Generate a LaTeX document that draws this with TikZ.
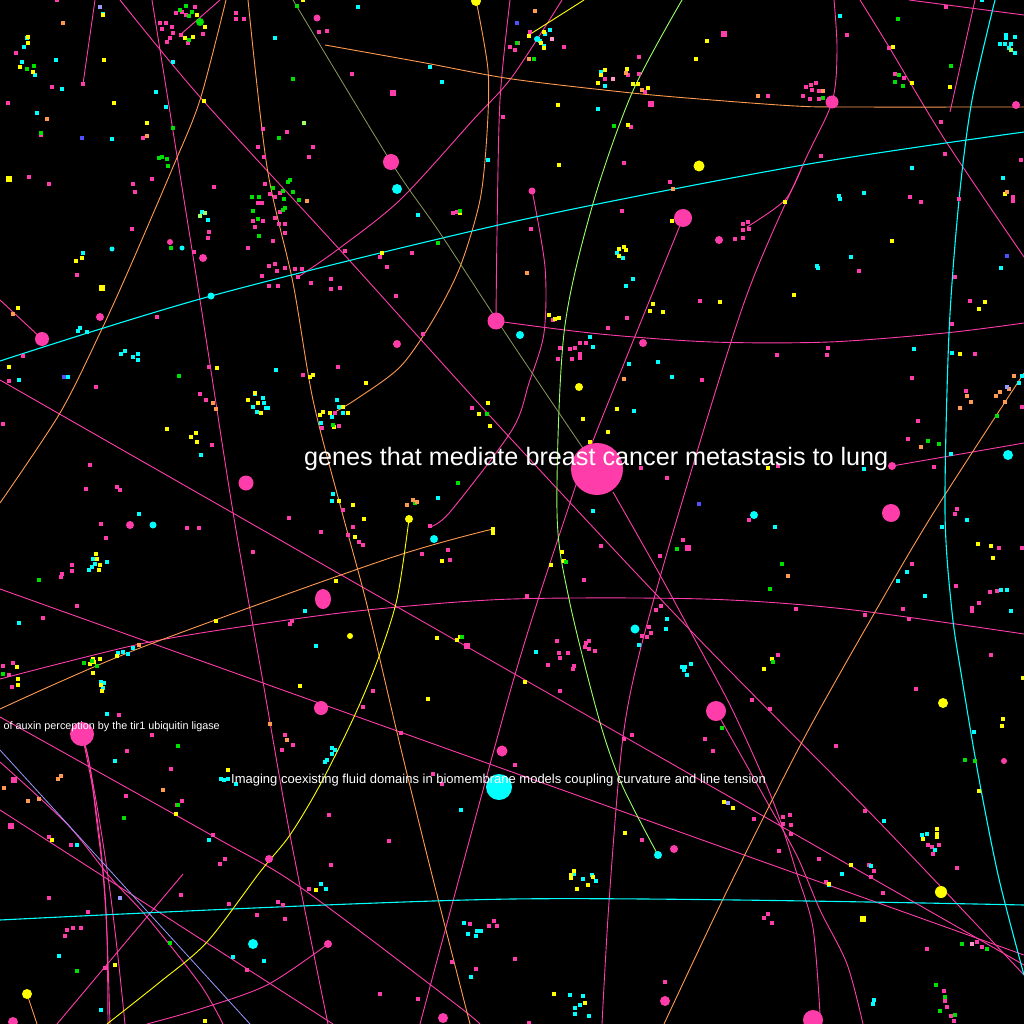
\documentclass[tikz,border=0pt]{standalone}
\usepackage{fontspec}
\setmainfont{Liberation Sans}
\definecolor{pk}{HTML}{FF3DAA}
\definecolor{cy}{HTML}{00FFFF}
\definecolor{ye}{HTML}{FFFF00}
\definecolor{gr}{HTML}{00E000}
\definecolor{orc}{HTML}{FF9A50}
\definecolor{lgc}{HTML}{99FF66}
\definecolor{olc}{HTML}{8C9A5A}
\definecolor{lvc}{HTML}{9999FF}
\definecolor{blc}{HTML}{5050FF}
\definecolor{lpk}{HTML}{FF99CC}
\tikzset{
  pline/.style={draw=pk, line width=0.9pt},
  oline/.style={draw=orc, line width=0.9pt},
  cline/.style={draw=cy, line width=1.1pt},
  gline/.style={draw=lgc, line width=0.9pt},
  yline/.style={draw=ye, line width=0.9pt},
  olline/.style={draw=olc, line width=0.8pt},
  lvline/.style={draw=lvc, line width=0.8pt},
  bigtext/.style={text=white, inner sep=0pt, font=\fontsize{25.2}{28}\selectfont},
  smalltext/.style={text=white, inner sep=0pt, font=\fontsize{13}{15}\selectfont},
  tinytext/.style={text=white, inner sep=0pt, font=\fontsize{10.8}{13}\selectfont},
}
\newcommand{\dotsq}{+(-1.8,-1.8) rectangle +(1.8,1.8)}
\begin{document}
\begin{tikzpicture}[x=1pt,y=-1pt]
\fill[black] (0,0) rectangle (1024,1024);
\clip (0,0) rectangle (1024,1024);
\useasboundingbox (0,0) rectangle (1024,1024);

% ---------- lines ----------
% pink
\draw[pline] (95,0) -- (83,84);
\draw[pline] plot[smooth] coordinates {(152,0) (200,300) (233,512) (263,682) (290,835) (328,1024)};
\draw[pline] plot[smooth] coordinates {(120,0) (200,97) (340,250) (512,440) (692,632) (879,822) (1024,975)};
\draw[pline] plot[smooth] coordinates {(562,0) (512,77) (473,120) (400,200) (337,250) (298,277)};
\draw[pline] plot[smooth] coordinates {(510,0) (500,100) (497,233) (496,321)};
\draw[pline] (0,300) -- (42,339);
\draw[pline] (0,380) -- (1024,965);
\draw[pline] (0,589) -- (1024,955);
\draw[pline] plot[smooth] coordinates {(0,717) (213,836) (300,887) (453,1002) (480,1024)};
\draw[pline] plot[smooth] coordinates {(0,679) (140,644) (253,625) (367,610) (512,599) (704,599) (845,609) (1024,634)};
\draw[pline] plot[smooth] coordinates {(683,218) (592,443) (567,512) (512,685) (420,1024)};
\draw[pline] plot[smooth] coordinates {(834,0) (837,50) (832,102) (802,167) (745,300) (679,512) (639,655) (622,745) (609,902) (602,1024)};
\draw[pline] plot[smooth] coordinates {(802,167) (785,200) (747,227)};
\draw[pline] plot[smooth] coordinates {(532,190) (545,267) (544,333) (529,383) (512,430) (450,512) (430,527)};
\draw[pline] (892,466) -- (1024,443);
\draw[pline] plot[smooth] coordinates {(496,321) (600,334) (712,342) (829,342) (945,333) (1024,323)};
\draw[pline] (975,0) -- (950,112);
\draw[pline] (909,0) -- (1024,15);
\draw[pline] plot[smooth] coordinates {(860,0) (889,47) (945,140) (1024,257)};
\draw[pline] plot[smooth] coordinates {(613,492) (660,575) (693,636) (730,705) (763,777) (780,820) (797,874) (813,928) (820,1014)};
\draw[pline] plot[smooth] coordinates {(716,711) (747,766) (767,802) (797,856) (820,910) (847,964) (863,1024)};
\draw[pline] (183,874) -- (57,1024);
\draw[pline] plot[smooth] coordinates {(328,944) (267,985) (200,1009) (147,1024)};
\draw[pline] plot[smooth] coordinates {(82,734) (90,767) (97,824) (103,874) (107,937) (108,1024)};
\draw[pline] plot[smooth] coordinates {(82,734) (93,790) (101,850) (106,910) (110,1024)};
\draw[pline] plot[smooth] coordinates {(82,734) (88,757) (100,824) (110,891) (118,957) (125,1024)};
\draw[pline] plot[smooth] coordinates {(0,762) (67,824) (110,877) (147,917) (200,984) (223,1024)};
\draw[pline] (0,810) -- (333,1024);
\draw[pline] (220,0) -- (180,35);
% orange
\draw[oline] plot[smooth] coordinates {(226,0) (200,100) (173,167) (130,267) (100,333) (60,413) (0,503)};
\draw[oline] plot[smooth] coordinates {(248,0) (267,167) (293,283) (313,400) (342,512) (367,605) (400,745) (433,879) (470,1024)};
\draw[oline] plot[smooth] coordinates {(325,45) (420,62) (512,79) (632,93) (712,100) (795,106) (845,107) (1024,107)};
\draw[oline] plot[smooth] coordinates {(476,0) (488,70) (487,133) (480,200) (460,267) (433,320) (400,367) (355,400) (333,413)};
\draw[oline] plot[smooth] coordinates {(0,709) (140,648) (387,559) (493,529)};
\draw[oline] plot[smooth] coordinates {(1024,373) (934,512) (875,612) (802,742) (725,895) (664,1024)};
\draw[oline] (27,994) -- (37,1024);
% cyan
\draw[cline] plot[smooth] coordinates {(0,361) (211,296) (512,222) (803,165) (1024,132)};
\draw[cline] plot[smooth] coordinates {(995,0) (972,100) (959,200) (949,333) (945,512) (952,612) (962,679) (979,779) (999,879) (1024,975)};
\draw[cline] plot[smooth] coordinates {(0,920) (512,899) (1024,905)};
% light green
\draw[gline] plot[smooth] coordinates {(682,0) (632,93) (592,207) (564,333) (557,512) (569,599) (599,719) (622,785) (658,855)};
% olive
\draw[olline] plot[smooth] coordinates {(293,0) (391,162) (440,233) (512,343) (597,469)};
% yellow
\draw[yline] plot[smooth] coordinates {(409,519) (397,599) (377,662) (353,719) (320,785) (290,835) (260,872) (207,942) (160,982) (107,1024)};
\draw[yline] (532,33) -- (584,0);
% lavender
\draw[lvline] (0,750) -- (250,1024);

% ---------- small dots ----------
\foreach \x/\y in {57/0, 16/53, 52/87, 83/84, 8/103, 41/135, 29/177, 49/184, 143/138, 133/184, 135/192, 152/179, 214/187, 160/23, 166/23, 172/27, 162/29, 176/13, 182/12, 186/15, 195/7, 203/34, 188/43, 181/35, 173/33, 170/38, 167/42, 236/13, 236/19, 244/19, 319/32, 327/31, 352/74, 503/117, 510/47, 287/132, 263/129, 258/147, 264/157, 313/147, 309/157, 265/184, 270/194, 275/197, 280/193, 258/203, 262/203, 280/212, 263/221, 253/221, 275/218, 255/227, 279/224, 285/224, 285/233, 273/241, 248/248, 209/232, 208/238, 132/229, 194/252, 77/275, 23/356, 9/381, 157/317, 269/266, 275/264, 277/271, 285/268, 262/276, 295/269, 302/269, 298/277, 269/286, 278/286, 311/283, 345/251, 331/279, 331/289, 340/288, 380/257, 387/267, 412/253, 396/296, 453/213, 457/212, 423/334, 338/367, 303/375, 209/367, 96/387, 3/424, 200/394, 206/400, 212/445, 90/465, 86/489, 117/487, 120/490, 335/413, 322/428, 339/426, 472/408, 343/510}
  \fill[pk] (\x,\y) \dotsq;
\foreach \x/\y in {530/32, 518/43, 515/50, 564/47, 639/57, 605/79, 628/75, 639/74, 645/92, 631/127, 768/96, 806/87, 811/85, 816/83, 812/90, 819/91, 803/96, 810/99, 819/99, 847/35, 889/48, 895/74, 904/78, 941/122, 946/7, 624/163, 670/182, 821/156, 945/154, 1021/160, 910/197, 921/202, 959/199, 1013/197, 1013/201, 531/229, 622/211, 735/239, 743/224, 748/222, 743/230, 749/229, 743/238, 859/271, 955/277, 700/301, 970/301, 553/320, 560/348, 570/349, 575/348, 580/343, 586/343, 580/354, 580/358, 558/359, 572/359, 608/328, 627/318, 702/380, 777/355, 828/348, 827/355, 975/354, 952/324, 912/378, 966/391, 1022/407, 918/421, 908/439, 934/467, 778/466, 667/478, 641/468, 957/509}
  \fill[pk] (\x,\y) \dotsq;
\foreach \x/\y in {353/527, 359/542, 363/545, 348/535, 289/518, 321/532, 430/526, 101/524, 187/528, 199/528, 106/538, 253/552, 448/550, 450/560, 422/554, 72/565, 72/571, 62/574, 61/577, 77/606, 43/618, 292/621, 290/624, 3/666, 13/663, 9/675, 12/687, 119/715, 152/735, 127/751, 171/769, 126/796, 177/805, 182/801, 49/837, 71/845, 373/691, 363/707, 401/733, 285/735, 293/745, 282/750, 433/774, 442/784, 329/815, 389/841, 331/865, 213/835, 225/859, 220/864, 309/889, 470/924, 494/921, 489/926, 497/926, 278/902, 283/905, 229/904, 257/915, 285/919, 88/912, 67/930, 73/928, 81/928, 65/936, 49/898, 105/968, 181/895, 452/962, 476/969, 380/994, 418/999, 247/970}
  \fill[pk] (\x,\y) \dotsq;
\foreach \x/\y in {749/520, 955/514, 1022/548, 999/548, 683/540, 601/546, 584/580, 660/556, 527/596, 912/564, 956/586, 990/592, 997/591, 979/603, 972/608, 972/611, 796/609, 865/615, 903/609, 909/619, 656/610, 661/606, 649/627, 647/637, 642/636, 651/633, 557/641, 586/643, 589/641, 585/647, 589/649, 595/651, 568/653, 559/653, 560/658, 548/665, 574/666, 573/669, 560/691, 778/655, 991/655, 916/689, 752/700, 770/709, 705/739, 713/751, 836/746, 632/735, 624/739, 515/765, 754/819, 790/815, 783/817, 783/824, 791/825, 791/834, 779/851, 865/811, 642/840, 819/859, 869/865, 874/871, 871/877, 928/845, 932/847, 939/845, 933/854, 957/868, 826/882, 883/893, 927/949, 764/918, 768/914, 772/923, 977/942, 982/947, 515/959, 665/982, 944/991, 945/1001, 947/1007, 951/1016, 954/1021, 529/1023}
  \fill[pk] (\x,\y) \dotsq;
\foreach \x/\y in {688/548, 14/780, 11/826, 651/104, 724/34, 467/646, 393/93}
  \fill[pk] (\x,\y) +(-2.7,-2.7) rectangle +(2.7,2.7);

\foreach \x/\y in {27/38, 24/47, 22/62, 35/75, 56/60, 103/14, 62/89, 37/113, 112/139, 156/92, 166/107, 173/62, 275/38, 358/7, 430/67, 442/82, 202/212, 208/220, 83/253, 80/328, 78/331, 87/332, 121/354, 125/351, 133/357, 138/354, 138/360, 19/380, 68/377, 276/370, 255/394, 263/398, 264/403, 253/407, 266/408, 268/408, 257/412, 418/215, 488/160, 337/400, 339/407, 343/413, 332/417, 321/423, 333/494, 332/501, 438/498, 201/455, 538/39, 540/41, 545/34, 550/30, 544/46, 601/72, 605/86, 598/109, 840/16, 1006/35, 1015/37, 1006/38, 1000/44, 1005/44, 1011/44, 1009/48, 1015/53, 982/0, 912/168, 1003/178, 839/196, 840/199, 864/193, 851/257, 817/266, 818/268, 1001/268, 617/253, 623/258, 633/279, 626/286, 629/364, 658/362, 672/377, 914/349, 952/353, 590/337, 593/347, 634/411, 1022/376, 1019/383, 951/454, 864/469, 588/489, 593/511}
  \fill[cy] (\x,\y) \dotsq;
\foreach \x/\y in {139/514, 93/559, 95/564, 92/567, 89/570, 107/562, 19/623, 305/611, 316/646, 101/682, 104/683, 103/688, 118/653, 123/652, 128/654, 133/648, 107/714, 115/761, 332/748, 335/750, 332/754, 327/760, 325/762, 221/779, 224/780, 228/779, 236/784, 461/810, 209/840, 77/845, 321/884, 326/889, 464/923, 477/931, 476/936, 481/931, 468/934, 233/957, 264/961, 59/956, 471/977, 101/1010, 775/527, 967/520, 942/527, 907/572, 898/581, 925/596, 1001/590, 1007/590, 1011/611, 667/619, 666/629, 639/645, 536/652, 682/667, 685/667, 684/670, 691/664, 687/675, 974/732, 884/821, 842/874, 871/866, 922/835, 927/834, 935/850, 829/885, 583/879, 592/875, 596/881, 574/874, 570/995, 583/996, 580/1005, 575/1008, 575/1014, 589/1016, 874/1000, 873/1004}
  \fill[cy] (\x,\y) \dotsq;

\foreach \x/\y in {28/37, 28/43, 20/67, 33/72, 104/60, 103/15, 114/103, 147/123, 204/101, 197/15, 205/27, 185/38, 193/37, 303/0, 82/258, 76/261, 18/308, 9/367, 217/368, 310/377, 313/375, 366/383, 382/253, 460/213, 255/393, 248/400, 258/403, 261/413, 167/429, 196/433, 191/437, 197/442, 343/407, 330/413, 348/413, 323/412, 320/415, 334/427, 479/414, 488/403, 490/426, 339/501, 353/505, 529/36, 544/32, 541/43, 544/48, 707/41, 696/59, 605/70, 601/75, 598/83, 627/69, 633/84, 638/84, 648/88, 558/105, 628/125, 893/47, 912/83, 950/87, 559/165, 785/202, 672/221, 892/241, 619/249, 624/247, 626/250, 619/256, 794/295, 720/302, 985/302, 979/309, 653/304, 650/311, 663/312, 549/315, 555/319, 559/318, 960/354, 617/409, 583/419, 608/432, 590/442, 597/446, 592/447, 595/462, 1005/194, 768/468}
  \fill[ye] (\x,\y) \dotsq;
\foreach \x/\y in {364/519, 355/537, 442/561, 336/581, 97/559, 100/565, 99/570, 96/554, 216/621, 17/667, 18/679, 18/685, 93/659, 94/662, 90/664, 100/659, 93/673, 101/685, 102/691, 117/656, 300/686, 428/699, 176/814, 228/770, 52/840, 316/890, 115/965, 205/1021, 437/638, 460/637, 457/640, 493/529, 493/533, 991/546, 978/544, 993/558, 562/552, 564/561, 551/565, 525/682, 772/659, 764/669, 1023/678, 1003/719, 1002/726, 979/791, 724/802, 733/808, 625/833, 851/865, 829/884, 937/829, 937/834, 937/837, 923/839, 571/875, 574/871, 571/878, 593/877, 588/885, 577/889, 554/994, 585/1003}
  \fill[ye] (\x,\y) \dotsq;
\foreach \x/\y in {863/919, 102/288, 9/179}
  \fill[ye] (\x,\y) +(-2.7,-2.7) rectangle +(2.7,2.7);

\foreach \x/\y in {27/69, 34/66, 41/133, 159/158, 162/157, 167/159, 168/166, 186/6, 180/10, 192/12, 189/16, 189/40, 173/128, 293/79, 297/6, 279/138, 288/182, 290/180, 293/192, 283/191, 273/188, 259/197, 252/197, 284/199, 299/200, 285/208, 283/210, 253/211, 258/219, 259/236, 171/248, 179/376, 438/243, 460/211, 333/425, 415/503, 458/483, 487/414, 517/43, 534/59, 614/126, 898/19, 951/66, 903/86, 823/98, 899/75, 895/82, 997/416, 928/441, 939/444, 39/580, 3/674, 92/661, 84/663, 97/666, 178/746, 178/805, 124/818, 170/943, 77/971, 462/637, 677/549, 566/562, 782/564, 770/589, 773/662, 722/728, 965/760, 975/761, 962/944, 987/949, 936/985, 945/997, 940/1011, 955/1015}
  \fill[gr] (\x,\y) \dotsq;

\foreach \x/\y in {63/23, 47/119, 147/136, 307/201, 213/403, 216/409, 13/314, 407/505, 413/500, 417/502, 535/11, 626/73, 642/90, 758/96, 823/91, 529/59, 527/273, 673/189, 624/379, 1007/192, 1014/376, 1009/389, 1000/392, 996/396, 967/396, 971/402, 960/408, 1005/402, 921/447, 139/645, 287/740, 270/724, 163/790, 61/776, 58/779, 39/799, 28/801, 4/788, 788/576}
  \fill[orc] (\x,\y) \dotsq;
\foreach \x/\y in {100/7, 1007/387, 728/803, 120/898}
  \fill[lvc] (\x,\y) \dotsq;
\foreach \x/\y in {517/23, 82/138, 64/377, 699/504, 1007/256}
  \fill[blc] (\x,\y) \dotsq;
\foreach \x/\y in {304/123, 205/213, 200/216, 1011/50}
  \fill[lgc] (\x,\y) \dotsq;
\foreach \x/\y in {552/39, 613/79, 972/944}
  \fill[lpk] (\x,\y) \dotsq;

% ---------- circles ----------
\foreach \x/\y/\r in {597/469/26, 391/162/8, 683/218/9, 496/321/8.5, 832/102/6.5, 42/339/7, 246/483/7.5, 321/708/7, 716/711/10, 891/513/9, 502/751/5.5, 813/1020/10, 130/525/4, 203/258/4, 100/317/4, 170/242/3, 719/240/4, 643/343/4, 892/466/4, 665/1001/5, 328/944/4, 269/859/4, 443/1018/5, 13/1022/5, 674/849/4, 1016/105/4, 532/191/3.5, 317/18/3.5, 397/344/4, 82/734/12, 1004/761/3}
  \fill[pk] (\x,\y) circle (\r pt);
\fill[pk] (323,599) ellipse (8pt and 10pt);
\foreach \x/\y/\r in {397/189/5, 211/296/3.5, 520/335/4, 635/629/4.5, 1008/455/5, 754/515/4, 434/539/4, 253/944/5, 658/855/4, 153/525/3.5, 499/787/13, 112/249/2.5, 182/248/2.5, 537/39/3}
  \fill[cy] (\x,\y) circle (\r pt);
\foreach \x/\y/\r in {476/1/5, 699/166/5.5, 579/387/4, 409/519/4, 350/636/3, 943/703/5, 941/892/6, 27/994/5}
  \fill[ye] (\x,\y) circle (\r pt);
\fill[gr] (200,22) circle (4pt);

% ---------- labels ----------
\node[bigtext, anchor=base west] (lung) at (304,465) {genes that mediate breast cancer metastasis to lung};
\node[smalltext, anchor=base west] (fluid) at (231,783) {Imaging coexisting fluid domains in biomembrane models coupling curvature and line tension};
\node[tinytext, anchor=base east] (auxin) at (220,729) {of auxin perception by the tir1 ubiquitin ligase};
\end{tikzpicture}
\end{document}
